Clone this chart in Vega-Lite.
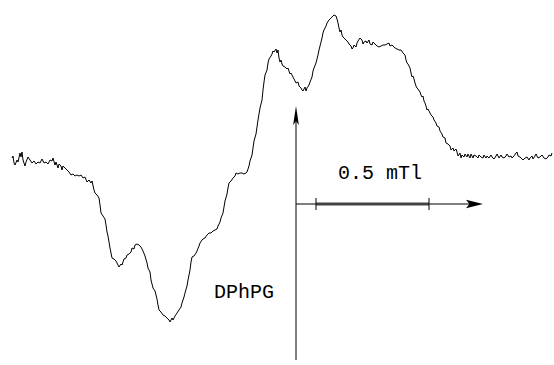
{
  "$schema": "https://vega.github.io/schema/vega-lite/v6.json",
  "width": 554,
  "height": 365,
  "autosize": {"type": "fit", "contains": "padding"},
  "padding": 0,
  "background": "white",
  "config": {"view": {"stroke": null}},
  "datasets": {
    "spectrum": [
      {"x":12,"y":158},{"x":13,"y":156},{"x":14,"y":163},{"x":15,"y":165},{"x":17,"y":160},{"x":18,"y":162},{"x":20,"y":153},{"x":21,"y":157},{"x":22,"y":152},{"x":23,"y":160},{"x":25,"y":166},{"x":26,"y":162},{"x":28,"y":157},{"x":30,"y":160},{"x":32,"y":163},{"x":34,"y":161},{"x":36,"y":164},{"x":38,"y":162},{"x":40,"y":163},{"x":42,"y":159},{"x":44,"y":163},{"x":46,"y":162},{"x":48,"y":164},{"x":50,"y":160},{"x":52,"y":161},{"x":53,"y":158},{"x":55,"y":165},{"x":56,"y":162},{"x":58,"y":168},{"x":59,"y":164},{"x":61,"y":166},{"x":62,"y":170},{"x":63,"y":166},{"x":65,"y":168},{"x":67,"y":170},{"x":69,"y":172},{"x":71,"y":175},{"x":73,"y":174},{"x":75,"y":176},{"x":77,"y":175},{"x":79,"y":176},{"x":81,"y":175},{"x":83,"y":178},{"x":85,"y":177},{"x":87,"y":182},{"x":89,"y":180},{"x":91,"y":183},{"x":92,"y":181},{"x":94,"y":190},{"x":95,"y":193},{"x":97,"y":195},{"x":99,"y":198},{"x":100,"y":205},{"x":101,"y":213},{"x":103,"y":216},{"x":105,"y":219},{"x":106,"y":225},{"x":107,"y":232},{"x":108,"y":236},{"x":110,"y":248},{"x":112,"y":258},{"x":114,"y":259},{"x":116,"y":261},{"x":118,"y":265},{"x":119,"y":267},{"x":121,"y":264},{"x":122,"y":265},{"x":124,"y":259},{"x":126,"y":258},{"x":127,"y":255},{"x":129,"y":254},{"x":131,"y":252},{"x":132,"y":248},{"x":134,"y":249},{"x":135,"y":245},{"x":137,"y":244},{"x":139,"y":245},{"x":141,"y":247},{"x":143,"y":251},{"x":145,"y":256},{"x":147,"y":263},{"x":148,"y":268},{"x":150,"y":272},{"x":151,"y":280},{"x":153,"y":288},{"x":155,"y":291},{"x":156,"y":295},{"x":157,"y":299},{"x":158,"y":305},{"x":159,"y":310},{"x":161,"y":312},{"x":163,"y":315},{"x":165,"y":316},{"x":167,"y":318},{"x":169,"y":320},{"x":170,"y":322},{"x":172,"y":318},{"x":173,"y":320},{"x":175,"y":316},{"x":177,"y":313},{"x":179,"y":310},{"x":181,"y":307},{"x":182,"y":303},{"x":184,"y":297},{"x":185,"y":293},{"x":187,"y":286},{"x":188,"y":280},{"x":190,"y":270},{"x":191,"y":262},{"x":192,"y":257},{"x":194,"y":256},{"x":196,"y":253},{"x":197,"y":251},{"x":199,"y":246},{"x":200,"y":243},{"x":202,"y":240},{"x":203,"y":239},{"x":205,"y":238},{"x":207,"y":235},{"x":209,"y":233},{"x":211,"y":233},{"x":213,"y":231},{"x":215,"y":230},{"x":217,"y":229},{"x":218,"y":226},{"x":220,"y":222},{"x":221,"y":218},{"x":223,"y":213},{"x":224,"y":207},{"x":225,"y":201},{"x":227,"y":194},{"x":228,"y":188},{"x":229,"y":183},{"x":231,"y":181},{"x":233,"y":178},{"x":235,"y":176},{"x":236,"y":173},{"x":238,"y":174},{"x":240,"y":173},{"x":242,"y":173},{"x":244,"y":174},{"x":246,"y":173},{"x":247,"y":172},{"x":249,"y":166},{"x":250,"y":161},{"x":252,"y":155},{"x":253,"y":148},{"x":254,"y":141},{"x":256,"y":134},{"x":257,"y":127},{"x":258,"y":120},{"x":259,"y":114},{"x":260,"y":108},{"x":262,"y":100},{"x":263,"y":90},{"x":264,"y":82},{"x":265,"y":75},{"x":267,"y":70},{"x":268,"y":63},{"x":269,"y":59},{"x":271,"y":56},{"x":272,"y":54},{"x":273,"y":51},{"x":274,"y":52},{"x":276,"y":49},{"x":277,"y":53},{"x":278,"y":50},{"x":279,"y":58},{"x":280,"y":62},{"x":281,"y":60},{"x":282,"y":64},{"x":283,"y":66},{"x":285,"y":67},{"x":287,"y":69},{"x":288,"y":68},{"x":290,"y":74},{"x":291,"y":73},{"x":293,"y":77},{"x":294,"y":79},{"x":296,"y":83},{"x":298,"y":82},{"x":299,"y":86},{"x":301,"y":88},{"x":302,"y":90},{"x":303,"y":91},{"x":305,"y":87},{"x":306,"y":91},{"x":307,"y":88},{"x":309,"y":85},{"x":310,"y":82},{"x":312,"y":77},{"x":313,"y":71},{"x":314,"y":68},{"x":316,"y":63},{"x":317,"y":59},{"x":318,"y":55},{"x":319,"y":50},{"x":320,"y":46},{"x":321,"y":42},{"x":322,"y":38},{"x":323,"y":33},{"x":324,"y":30},{"x":326,"y":26},{"x":327,"y":23},{"x":329,"y":20},{"x":331,"y":18},{"x":333,"y":16},{"x":334,"y":15},{"x":336,"y":16},{"x":337,"y":19},{"x":338,"y":23},{"x":339,"y":28},{"x":340,"y":32},{"x":341,"y":30},{"x":342,"y":35},{"x":343,"y":37},{"x":345,"y":39},{"x":346,"y":40},{"x":348,"y":42},{"x":349,"y":44},{"x":351,"y":46},{"x":352,"y":49},{"x":353,"y":48},{"x":354,"y":45},{"x":356,"y":47},{"x":357,"y":43},{"x":358,"y":41},{"x":360,"y":38},{"x":362,"y":40},{"x":363,"y":44},{"x":364,"y":42},{"x":366,"y":41},{"x":367,"y":43},{"x":369,"y":40},{"x":370,"y":44},{"x":372,"y":45},{"x":373,"y":42},{"x":375,"y":44},{"x":377,"y":46},{"x":379,"y":47},{"x":381,"y":46},{"x":383,"y":45},{"x":385,"y":45},{"x":387,"y":44},{"x":389,"y":43},{"x":390,"y":46},{"x":392,"y":45},{"x":394,"y":47},{"x":395,"y":48},{"x":397,"y":49},{"x":399,"y":50},{"x":401,"y":50},{"x":403,"y":53},{"x":405,"y":55},{"x":406,"y":60},{"x":407,"y":63},{"x":408,"y":64},{"x":410,"y":68},{"x":411,"y":73},{"x":412,"y":77},{"x":413,"y":76},{"x":414,"y":79},{"x":415,"y":83},{"x":416,"y":86},{"x":417,"y":88},{"x":418,"y":89},{"x":420,"y":92},{"x":421,"y":95},{"x":422,"y":97},{"x":423,"y":96},{"x":424,"y":101},{"x":425,"y":103},{"x":426,"y":106},{"x":427,"y":110},{"x":428,"y":109},{"x":430,"y":113},{"x":431,"y":115},{"x":433,"y":117},{"x":434,"y":120},{"x":436,"y":123},{"x":437,"y":126},{"x":439,"y":127},{"x":440,"y":131},{"x":442,"y":134},{"x":443,"y":137},{"x":445,"y":138},{"x":446,"y":143},{"x":448,"y":144},{"x":450,"y":146},{"x":451,"y":150},{"x":453,"y":148},{"x":454,"y":151},{"x":456,"y":149},{"x":457,"y":152},{"x":458,"y":156},{"x":460,"y":153},{"x":461,"y":158},{"x":462,"y":155},{"x":464,"y":157},{"x":465,"y":154},{"x":467,"y":157},{"x":468,"y":154},{"x":470,"y":158},{"x":471,"y":154},{"x":473,"y":158},{"x":474,"y":155},{"x":476,"y":156},{"x":478,"y":158},{"x":479,"y":155},{"x":481,"y":157},{"x":483,"y":158},{"x":484,"y":155},{"x":486,"y":158},{"x":487,"y":156},{"x":489,"y":158},{"x":491,"y":155},{"x":492,"y":157},{"x":494,"y":159},{"x":496,"y":156},{"x":497,"y":154},{"x":499,"y":158},{"x":501,"y":155},{"x":502,"y":157},{"x":504,"y":158},{"x":506,"y":156},{"x":507,"y":154},{"x":509,"y":157},{"x":511,"y":156},{"x":512,"y":158},{"x":514,"y":156},{"x":516,"y":153},{"x":517,"y":152},{"x":518,"y":156},{"x":520,"y":157},{"x":521,"y":158},{"x":523,"y":160},{"x":525,"y":158},{"x":527,"y":157},{"x":529,"y":160},{"x":530,"y":158},{"x":532,"y":156},{"x":533,"y":159},{"x":535,"y":156},{"x":536,"y":154},{"x":538,"y":158},{"x":540,"y":157},{"x":542,"y":155},{"x":544,"y":158},{"x":546,"y":159},{"x":548,"y":157},{"x":549,"y":155},{"x":551,"y":156},{"x":552,"y":153}
    ],
    "axes": [
      {"name": "intensity", "x": 296, "x2": 296, "y": 118, "y2": 360},
      {"name": "field", "x": 296, "x2": 476, "y": 204, "y2": 204}
    ],
    "scalebar": [{"x": 316, "x2": 429, "y": 204}],
    "ticks": [
      {"x": 316, "y": 198, "y2": 210},
      {"x": 429, "y": 198, "y2": 210}
    ],
    "headUp": [{"x": 296, "y": 115.5}],
    "headRight": [{"x": 474.5, "y": 204}],
    "labels": [
      {"x": 380, "y": 179, "text": "0.5 mTl"},
      {"x": 244, "y": 298, "text": "DPhPG"}
    ]
  },
  "resolve": {"scale": {"x": "shared", "y": "shared"}},
  "layer": [
    {
      "data": {"name": "spectrum"},
      "mark": {"type": "line", "color": "black", "strokeWidth": 1, "clip": false},
      "encoding": {
        "x": {"field": "x", "type": "quantitative", "scale": {"domain": [0, 554], "nice": false, "zero": false}, "axis": null},
        "y": {"field": "y", "type": "quantitative", "scale": {"domain": [0, 365], "nice": false, "zero": false, "reverse": true}, "axis": null}
      }
    },
    {
      "data": {"name": "axes"},
      "mark": {"type": "rule", "color": "black", "strokeWidth": 1},
      "encoding": {
        "x": {"field": "x", "type": "quantitative"},
        "x2": {"field": "x2"},
        "y": {"field": "y", "type": "quantitative"},
        "y2": {"field": "y2"}
      }
    },
    {
      "data": {"name": "scalebar"},
      "mark": {"type": "rule", "color": "#444444", "strokeWidth": 3},
      "encoding": {
        "x": {"field": "x", "type": "quantitative"},
        "x2": {"field": "x2"},
        "y": {"field": "y", "type": "quantitative"}
      }
    },
    {
      "data": {"name": "ticks"},
      "mark": {"type": "rule", "color": "black", "strokeWidth": 1},
      "encoding": {
        "x": {"field": "x", "type": "quantitative"},
        "y": {"field": "y", "type": "quantitative"},
        "y2": {"field": "y2"}
      }
    },
    {
      "data": {"name": "headUp"},
      "mark": {"type": "point", "filled": true, "color": "black", "opacity": 1, "strokeWidth": 0, "size": 361, "shape": "M0,-1L0.3,1L0,0.6L-0.3,1Z"},
      "encoding": {
        "x": {"field": "x", "type": "quantitative"},
        "y": {"field": "y", "type": "quantitative"}
      }
    },
    {
      "data": {"name": "headRight"},
      "mark": {"type": "point", "filled": true, "color": "black", "opacity": 1, "strokeWidth": 0, "size": 289, "shape": "M1,0L-1,0.5L-0.6,0L-1,-0.5Z"},
      "encoding": {
        "x": {"field": "x", "type": "quantitative"},
        "y": {"field": "y", "type": "quantitative"}
      }
    },
    {
      "data": {"name": "labels"},
      "mark": {"type": "text", "font": "Liberation Mono", "fontSize": 20, "color": "black", "align": "center", "baseline": "alphabetic"},
      "encoding": {
        "x": {"field": "x", "type": "quantitative"},
        "y": {"field": "y", "type": "quantitative"},
        "text": {"field": "text"}
      }
    }
  ]
}
